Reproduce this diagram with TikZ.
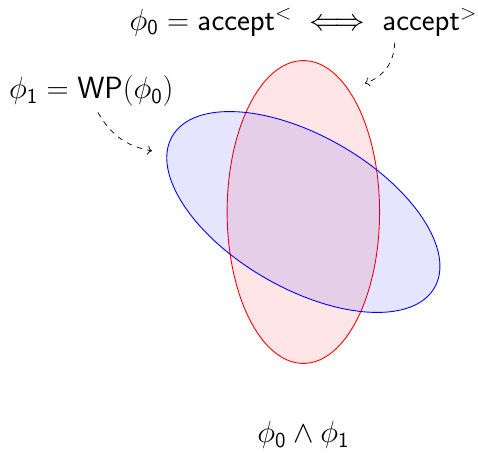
\documentclass[tikz,border=0pt]{standalone}
\usepackage{amsmath,amssymb}
\usepackage{tikz}
\usetikzlibrary{arrows.meta,positioning,shapes.geometric}

\begin{document}
\begin{tikzpicture}[
    set/.style={ellipse,inner sep=0pt,minimum width=3.02cm,minimum height=6cm,
                fill opacity=0.1,draw opacity=1,line width=0.5pt},
    lbl/.style={font=\fontsize{17.6}{21}\selectfont},
    pointer/.style={-{To},dashed}]

    \useasboundingbox (-6.01,-4.77) rectangle (3.46,4.2);

    % the two sets
    \node[set,draw=red,fill=red] (phizero) at (0,0) {};
    \node[set,draw=blue,fill=blue,rotate=60] (phione) at (0,0) {};

    \node[lbl] (pre) at (0,3.76)
      {$\phi_{\mathsf{0}} = \mathsf{accept}^{<} \iff \mathsf{accept}^{>}$};
    \node[lbl] (wp) at (-4.2,2.40)
      {$\phi_{\mathsf{1}} = \mathsf{WP}(\phi_{\mathsf{0}})$};
    \node[lbl] (conj) at (0,-4.42)
      {$\phi_{\mathsf{0}} \wedge \phi_{\mathsf{1}}$};

    \coordinate (pretip) at (1.22,2.55);
    \coordinate (wptip) at (-3.0,1.21);

    \draw[pointer] ([xshift=1.81cm]pre.south) to[bend left=35] (pretip);
    \draw[pointer] ([xshift=0.13cm]wp.south) to[bend right=25] (wptip);
\end{tikzpicture}
\end{document}
